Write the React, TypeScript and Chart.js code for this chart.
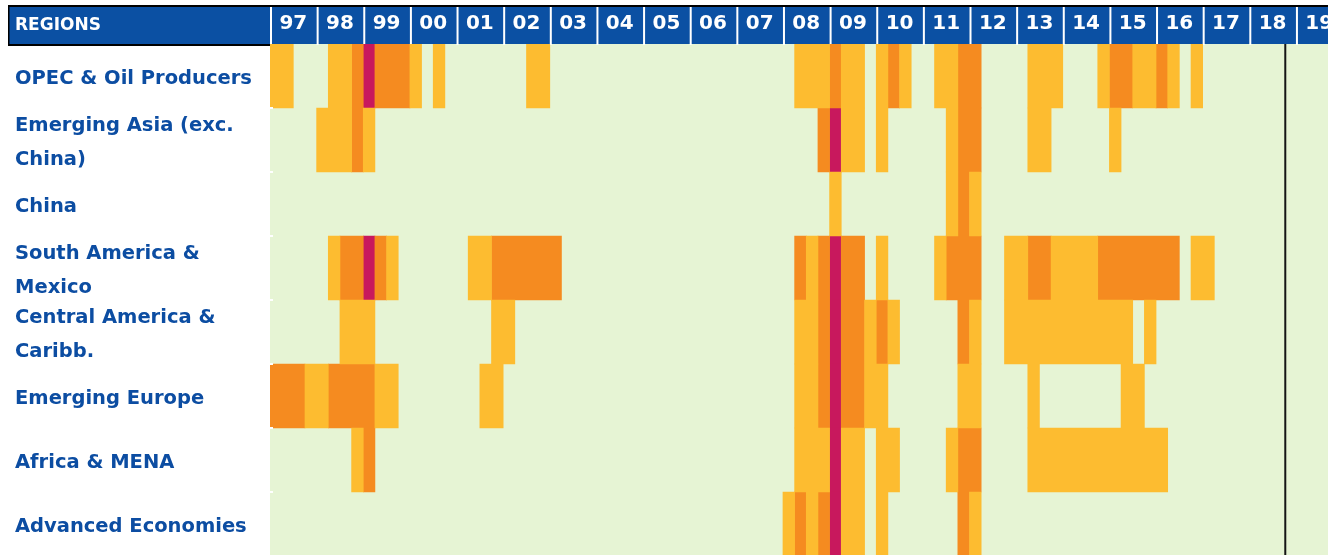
import { useEffect, useRef } from "react";
import { Chart, registerables } from "chart.js";

Chart.register(...registerables);

const FONT = '"DejaVu Sans", Verdana, sans-serif';
const GREEN = "#E6F4D4";
const YELLOW = "#FDBC30";
const ORANGE = "#F58B20";
const MAGENTA = "#C8185D";
const HEADER_BLUE = "#0B50A3";
const LABEL_BLUE = "#0C4DA2";

const headerTitle = "REGIONS";

const regionLabels = [
  "OPEC & Oil Producers",
  "Emerging Asia (exc. China)",
  "China",
  "South America & Mexico",
  "Central America & Caribb.",
  "Emerging Europe",
  "Africa & MENA",
  "Advanced Economies",
];

const regionLines = [
  ["OPEC & Oil Producers"],
  ["Emerging Asia (exc.", "China)"],
  ["China"],
  ["South America &", "Mexico"],
  ["Central America &", "Caribb."],
  ["Emerging Europe"],
  ["Africa & MENA"],
  ["Advanced Economies"],
];

const yearLabels = [
  "97", "98", "99", "00", "01", "02", "03", "04", "05", "06", "07", "08",
  "09", "10", "11", "12", "13", "14", "15", "16", "17", "18", "19",
];

// Quarterly stress level, 1997Q1 .. 2018Q3 (0 none, 1 moderate, 2 high, 3 severe)
const opec = [
  1, 1, 0, 0, /*98*/ 0, 1, 1, 2, /*99*/ 3, 2, 2, 2, /*00*/ 1, 0, 1, 0,
  /*01*/ 0, 0, 0, 0, /*02*/ 0, 0, 1, 1, /*03*/ 0, 0, 0, 0, /*04*/ 0, 0, 0, 0,
  /*05*/ 0, 0, 0, 0, /*06*/ 0, 0, 0, 0, /*07*/ 0, 0, 0, 0, /*08*/ 0, 1, 1, 1,
  /*09*/ 2, 1, 1, 0, /*10*/ 1, 2, 1, 0, /*11*/ 0, 1, 1, 2, /*12*/ 2, 0, 0, 0,
  /*13*/ 0, 1, 1, 1, /*14*/ 0, 0, 0, 1, /*15*/ 2, 2, 1, 1, /*16*/ 2, 1, 0, 1,
  /*17*/ 0, 0, 0, 0, /*18*/ 0, 0, 0,
];
const emergingAsia = [
  0, 0, 0, 0, /*98*/ 1, 1, 1, 2, /*99*/ 1, 0, 0, 0, /*00*/ 0, 0, 0, 0,
  /*01*/ 0, 0, 0, 0, /*02*/ 0, 0, 0, 0, /*03*/ 0, 0, 0, 0, /*04*/ 0, 0, 0, 0,
  /*05*/ 0, 0, 0, 0, /*06*/ 0, 0, 0, 0, /*07*/ 0, 0, 0, 0, /*08*/ 0, 0, 0, 2,
  /*09*/ 3, 1, 1, 0, /*10*/ 1, 0, 0, 0, /*11*/ 0, 0, 1, 2, /*12*/ 2, 0, 0, 0,
  /*13*/ 0, 1, 1, 0, /*14*/ 0, 0, 0, 0, /*15*/ 1, 0, 0, 0, /*16*/ 0, 0, 0, 0,
  /*17*/ 0, 0, 0, 0, /*18*/ 0, 0, 0,
];
const china = [
  0, 0, 0, 0, /*98*/ 0, 0, 0, 0, /*99*/ 0, 0, 0, 0, /*00*/ 0, 0, 0, 0,
  /*01*/ 0, 0, 0, 0, /*02*/ 0, 0, 0, 0, /*03*/ 0, 0, 0, 0, /*04*/ 0, 0, 0, 0,
  /*05*/ 0, 0, 0, 0, /*06*/ 0, 0, 0, 0, /*07*/ 0, 0, 0, 0, /*08*/ 0, 0, 0, 0,
  /*09*/ 1, 0, 0, 0, /*10*/ 0, 0, 0, 0, /*11*/ 0, 0, 1, 2, /*12*/ 1, 0, 0, 0,
  /*13*/ 0, 0, 0, 0, /*14*/ 0, 0, 0, 0, /*15*/ 0, 0, 0, 0, /*16*/ 0, 0, 0, 0,
  /*17*/ 0, 0, 0, 0, /*18*/ 0, 0, 0,
];
const southAmerica = [
  0, 0, 0, 0, /*98*/ 0, 1, 2, 2, /*99*/ 3, 2, 1, 0, /*00*/ 0, 0, 0, 0,
  /*01*/ 0, 1, 1, 2, /*02*/ 2, 2, 2, 2, /*03*/ 2, 0, 0, 0, /*04*/ 0, 0, 0, 0,
  /*05*/ 0, 0, 0, 0, /*06*/ 0, 0, 0, 0, /*07*/ 0, 0, 0, 0, /*08*/ 0, 2, 1, 2,
  /*09*/ 3, 2, 2, 0, /*10*/ 1, 0, 0, 0, /*11*/ 0, 1, 2, 2, /*12*/ 2, 0, 0, 1,
  /*13*/ 1, 2, 2, 1, /*14*/ 1, 1, 1, 2, /*15*/ 2, 2, 2, 2, /*16*/ 2, 2, 0, 1,
  /*17*/ 1, 0, 0, 0, /*18*/ 0, 0, 0,
];
const centralAmerica = [
  0, 0, 0, 0, /*98*/ 0, 0, 1, 1, /*99*/ 1, 0, 0, 0, /*00*/ 0, 0, 0, 0,
  /*01*/ 0, 0, 0, 1, /*02*/ 1, 0, 0, 0, /*03*/ 0, 0, 0, 0, /*04*/ 0, 0, 0, 0,
  /*05*/ 0, 0, 0, 0, /*06*/ 0, 0, 0, 0, /*07*/ 0, 0, 0, 0, /*08*/ 0, 1, 1, 2,
  /*09*/ 3, 2, 2, 1, /*10*/ 2, 1, 0, 0, /*11*/ 0, 0, 0, 2, /*12*/ 1, 0, 0, 1,
  /*13*/ 1, 1, 1, 1, /*14*/ 1, 1, 1, 1, /*15*/ 1, 1, 0, 1, /*16*/ 0, 0, 0, 0,
  /*17*/ 0, 0, 0, 0, /*18*/ 0, 0, 0,
];
const emergingEurope = [
  2, 2, 2, 1, /*98*/ 1, 2, 2, 2, /*99*/ 2, 1, 1, 0, /*00*/ 0, 0, 0, 0,
  /*01*/ 0, 0, 1, 1, /*02*/ 0, 0, 0, 0, /*03*/ 0, 0, 0, 0, /*04*/ 0, 0, 0, 0,
  /*05*/ 0, 0, 0, 0, /*06*/ 0, 0, 0, 0, /*07*/ 0, 0, 0, 0, /*08*/ 0, 1, 1, 2,
  /*09*/ 3, 2, 2, 1, /*10*/ 1, 0, 0, 0, /*11*/ 0, 0, 0, 1, /*12*/ 1, 0, 0, 0,
  /*13*/ 0, 1, 0, 0, /*14*/ 0, 0, 0, 0, /*15*/ 0, 1, 1, 0, /*16*/ 0, 0, 0, 0,
  /*17*/ 0, 0, 0, 0, /*18*/ 0, 0, 0,
];
const africaMena = [
  0, 0, 0, 0, /*98*/ 0, 0, 0, 1, /*99*/ 2, 0, 0, 0, /*00*/ 0, 0, 0, 0,
  /*01*/ 0, 0, 0, 0, /*02*/ 0, 0, 0, 0, /*03*/ 0, 0, 0, 0, /*04*/ 0, 0, 0, 0,
  /*05*/ 0, 0, 0, 0, /*06*/ 0, 0, 0, 0, /*07*/ 0, 0, 0, 0, /*08*/ 0, 1, 1, 1,
  /*09*/ 3, 1, 1, 0, /*10*/ 1, 1, 0, 0, /*11*/ 0, 0, 1, 2, /*12*/ 2, 0, 0, 0,
  /*13*/ 0, 1, 1, 1, /*14*/ 1, 1, 1, 1, /*15*/ 1, 1, 1, 1, /*16*/ 1, 0, 0, 0,
  /*17*/ 0, 0, 0, 0, /*18*/ 0, 0, 0,
];
const advanced = [
  0, 0, 0, 0, /*98*/ 0, 0, 0, 0, /*99*/ 0, 0, 0, 0, /*00*/ 0, 0, 0, 0,
  /*01*/ 0, 0, 0, 0, /*02*/ 0, 0, 0, 0, /*03*/ 0, 0, 0, 0, /*04*/ 0, 0, 0, 0,
  /*05*/ 0, 0, 0, 0, /*06*/ 0, 0, 0, 0, /*07*/ 0, 0, 0, 0, /*08*/ 1, 2, 1, 2,
  /*09*/ 3, 1, 1, 0, /*10*/ 1, 0, 0, 0, /*11*/ 0, 0, 0, 2, /*12*/ 1, 0, 0, 0,
  /*13*/ 0, 0, 0, 0, /*14*/ 0, 0, 0, 0, /*15*/ 0, 0, 0, 0, /*16*/ 0, 0, 0, 0,
  /*17*/ 0, 0, 0, 0, /*18*/ 0, 0, 0,
];

const regionSeries = [
  opec, emergingAsia, china, southAmerica, centralAmerica, emergingEurope, africaMena, advanced,
];

const levelNames = ["Moderate", "High", "Severe"];
const levelColors = [YELLOW, ORANGE, MAGENTA];

// visible quarter span of the time axis (1997Q1 to the right page edge)
const X_MAX = 90.75;
const QUARTERS_PER_YEAR = 4;

function runsOf(series: number[], level: number): [number, number][] {
  const out: [number, number][] = [];
  let start = -1;
  for (let i = 0; i <= series.length; i++) {
    const on = i < series.length && series[i] === level;
    if (on && start < 0) start = i;
    if (!on && start >= 0) {
      out.push([start, i]);
      start = -1;
    }
  }
  return out;
}

const frame = {
  id: "heatFrame",
  beforeDraw(chart: any) {
    const { ctx, chartArea: ca, scales } = chart;
    const x = scales.x;
    const W = chart.width;
    ctx.save();
    ctx.fillStyle = GREEN;
    ctx.fillRect(ca.left, ca.top, ca.right - ca.left, ca.bottom - ca.top);
    // header frame
    ctx.fillStyle = "#000";
    ctx.fillRect(8, 5, W - 8, 2);
    ctx.fillRect(8, 5, ca.left + 2 - 8, ca.top + 2 - 5);
    ctx.fillStyle = HEADER_BLUE;
    ctx.fillRect(9.5, 7, W - 9.5, ca.top - 7);
    // year dividers
    ctx.fillStyle = "#fff";
    for (let k = 0; k < yearLabels.length; k++) {
      const px = x.getPixelForValue(k * QUARTERS_PER_YEAR);
      ctx.fillRect(px, 7, 2, ca.top - 7 + 1);
    }
    ctx.font = `bold 17px ${FONT}`;
    ctx.textBaseline = "middle";
    ctx.textAlign = "left";
    ctx.fillText(headerTitle, 15, 26);
    ctx.restore();
  },
  afterDatasetsDraw(chart: any) {
    const { ctx, chartArea: ca, scales } = chart;
    const x = scales.x;
    const y = scales.y;
    ctx.save();
    // row separator marks on the left edge
    ctx.fillStyle = "#fff";
    for (let r = 1; r < regionLabels.length; r++) {
      const py = (y.getPixelForValue(r - 1) + y.getPixelForValue(r)) / 2;
      ctx.fillRect(ca.left, py - 1, 3, 2);
    }
    // end of data line
    const lx = x.getPixelForValue(opec.length);
    ctx.fillStyle = "#151515";
    ctx.fillRect(lx, ca.top, 2, ca.bottom - ca.top);
    ctx.restore();
  },
};

export default function App() {
  const ref = useRef<HTMLCanvasElement>(null);

  useEffect(() => {
    const canvas = ref.current;
    if (!canvas) return;

    const datasets = levelNames.map((name, li) => ({
      label: name,
      data: regionSeries.flatMap((series, r) =>
        runsOf(series, li + 1).map(([s, e]) => ({ x: [s, e], y: regionLabels[r] }))
      ),
      backgroundColor: levelColors[li],
      borderWidth: 0,
      grouped: false,
      barPercentage: 1,
      categoryPercentage: 1,
    }));

    const chart = new Chart(canvas, {
      type: "bar",
      data: { labels: regionLabels, datasets: datasets as any },
      options: {
        responsive: false,
        animation: false,
        devicePixelRatio: 1,
        indexAxis: "y",
        layout: { padding: { top: 7, left: 15, right: 0, bottom: 0 } },
        plugins: { legend: { display: false }, tooltip: { enabled: false } },
        scales: {
          x: {
            type: "linear",
            position: "top",
            min: 0,
            max: X_MAX,
            grid: { display: false, drawTicks: false },
            border: { display: false },
            afterBuildTicks: (s: any) => {
              s.ticks = yearLabels.map((_, k) => ({ value: k * QUARTERS_PER_YEAR + 2 }));
            },
            afterFit: (s: any) => {
              s.height = 37;
              s.paddingLeft = 0;
              s.paddingRight = 0;
            },
            ticks: {
              autoSkip: false,
              maxRotation: 0,
              minRotation: 0,
              padding: 8,
              color: "#fff",
              font: { family: FONT, size: 20, weight: "bold" },
              callback: (v: any) => yearLabels[Math.round((Number(v) - 2) / QUARTERS_PER_YEAR)],
            },
          },
          y: {
            type: "category",
            position: "left",
            offset: true,
            grid: { display: false, drawTicks: false },
            border: { display: false },
            afterFit: (s: any) => {
              s.width = 255;
              s.paddingTop = 0;
              s.paddingBottom = 0;
            },
            ticks: {
              autoSkip: false,
              crossAlign: "far",
              labelOffset: 3,
              color: LABEL_BLUE,
              font: { family: FONT, size: 19.5, weight: "bold", lineHeight: 1.72 },
              callback: (_v: any, i: number) => regionLines[i],
            },
          },
        },
      } as any,
      plugins: [frame],
    });
    return () => chart.destroy();
  }, []);

  return (
    <div style={{ position: "fixed", left: 0, top: 0, width: 1328, height: 555, overflow: "hidden", background: "#fff" }}>
      <canvas ref={ref} width={1328} height={556} style={{ display: "block" }} />
    </div>
  );
}
